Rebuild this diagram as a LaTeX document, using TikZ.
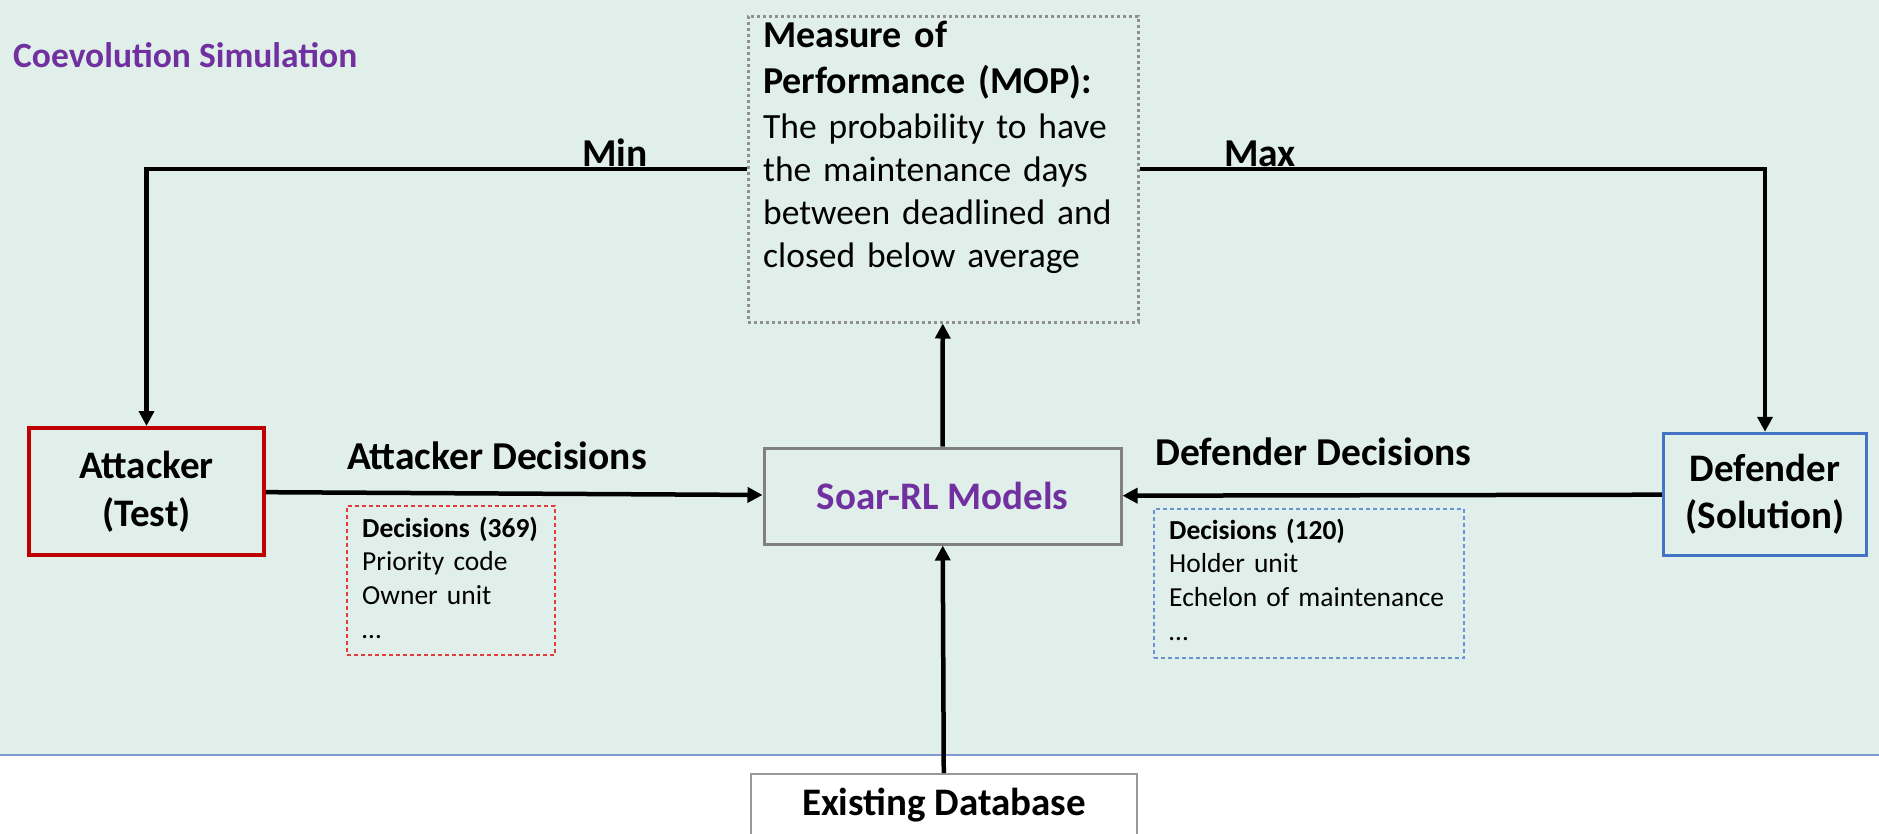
\documentclass[tikz,border=0pt]{standalone}
\usepackage{fontspec}
\setmainfont{Carlito}
\usetikzlibrary{arrows.meta}

\definecolor{bgmint}{HTML}{E1EFEA}
\definecolor{simpurple}{HTML}{7030A0}
\definecolor{attred}{HTML}{C00000}
\definecolor{defblue}{HTML}{4472C4}
\definecolor{boxgray}{HTML}{808080}
\definecolor{dotgray}{HTML}{8F8F8F}
\definecolor{listred}{HTML}{E03C3C}
\definecolor{listblue}{HTML}{6A93D6}
\definecolor{bandblue}{HTML}{7F9ACF}

\begin{document}
\begin{tikzpicture}[x=1pt,y=-1pt,
  conn/.style={line width=4.5pt,-{Triangle[length=15pt,width=15pt]}},
  plainbox/.style={rectangle,inner sep=0pt,align=center},
  biglabel/.style={anchor=base west,inner sep=0pt,font=\fontsize{39.5}{47}\bfseries},
  textlines/.style={anchor=base west,inner sep=0pt,text width=420pt},
  listtext/.style={textlines,font=\fontsize{27.5}{33.7}\selectfont},
  listbox/.style={rectangle,inner sep=0pt,line width=1.3pt,dash pattern=on 4pt off 3pt}
]
% page area, shaded simulation band and its lower edge
\clip (0,0) rectangle (1879,833);
\fill[bgmint] (0,0) rectangle (1879,755);
\draw[bandblue,line width=1.5pt] (0,755) -- (1879,755);

% heading of the simulation band
\node[anchor=base west,inner sep=0pt,text=simpurple,font=\fontsize{35.5}{43}\bfseries]
  (title) at (13,67) {Coevolution Simulation};

% measure of performance
\node[rectangle,draw=dotgray,line width=3pt,dash pattern=on 3pt off 3pt,
  minimum width=390pt,minimum height=306pt] (mop) at (943,169) {};
\node[textlines,font=\fontsize{38}{46}\bfseries] (moptitle) at (763,47)
  {Measure of\\Performance (MOP):};
\node[textlines,font=\fontsize{35.5}{43.3}\selectfont] (mopbody) at (763,138)
  {The probability to have\\the maintenance days\\between deadlined and\\closed below average};

% players and the model
\node[plainbox,draw=attred,line width=4pt,minimum width=235pt,minimum height=127pt,
  font=\fontsize{39}{48}\bfseries] (att) at (146.5,491.5) {Attacker\\(Test)};
\node[plainbox,draw=defblue,line width=3.5pt,minimum width=203pt,minimum height=122pt,
  font=\fontsize{39}{47}\bfseries] (def) at (1765,494.5) {Defender\\(Solution)};
\node[plainbox,draw=boxgray,line width=3pt,minimum width=357pt,minimum height=96pt,
  text=simpurple,font=\fontsize{39}{47}\bfseries] (soar) at (942.5,496) {Soar-RL Models};
\node[plainbox,draw=boxgray!80,line width=1.5pt,fill=white,minimum width=386pt,
  text height=24pt,text depth=40pt,inner ysep=18pt,anchor=north,
  font=\fontsize{39}{47}\bfseries] (db) at (944,773) {Existing Database};

% connectors
\draw[conn] (mop.west) -| (att.north);
\draw[conn] (mop.east) -| (def.north);
\draw[conn] (soar) -- (mop);
\draw[conn] (db) -- (soar);
\draw[conn] (att) -- (soar);
\draw[conn] (def) -- (soar);

% connector labels
\node[biglabel] (minlbl) at (582,166) {Min};
\node[biglabel] (maxlbl) at (1224,166) {Max};
\node[biglabel] (attdec) at (347,469) {Attacker Decisions};
\node[biglabel] (defdec) at (1155,465) {Defender Decisions};

% decision lists
\node[listbox,draw=listred,minimum width=208pt,minimum height=149pt] (attlist) at (451,580.5) {};
\node[listtext] (attitems) at (362,537)
  {\textbf{Decisions (369)}\\Priority code\\Owner unit\\…};
\node[listbox,draw=listblue,minimum width=310pt,minimum height=149pt] (deflist) at (1309,583.5) {};
\node[listtext] (defitems) at (1169,539)
  {\textbf{Decisions (120)}\\Holder unit\\Echelon of maintenance\\…};
\end{tikzpicture}
\end{document}
